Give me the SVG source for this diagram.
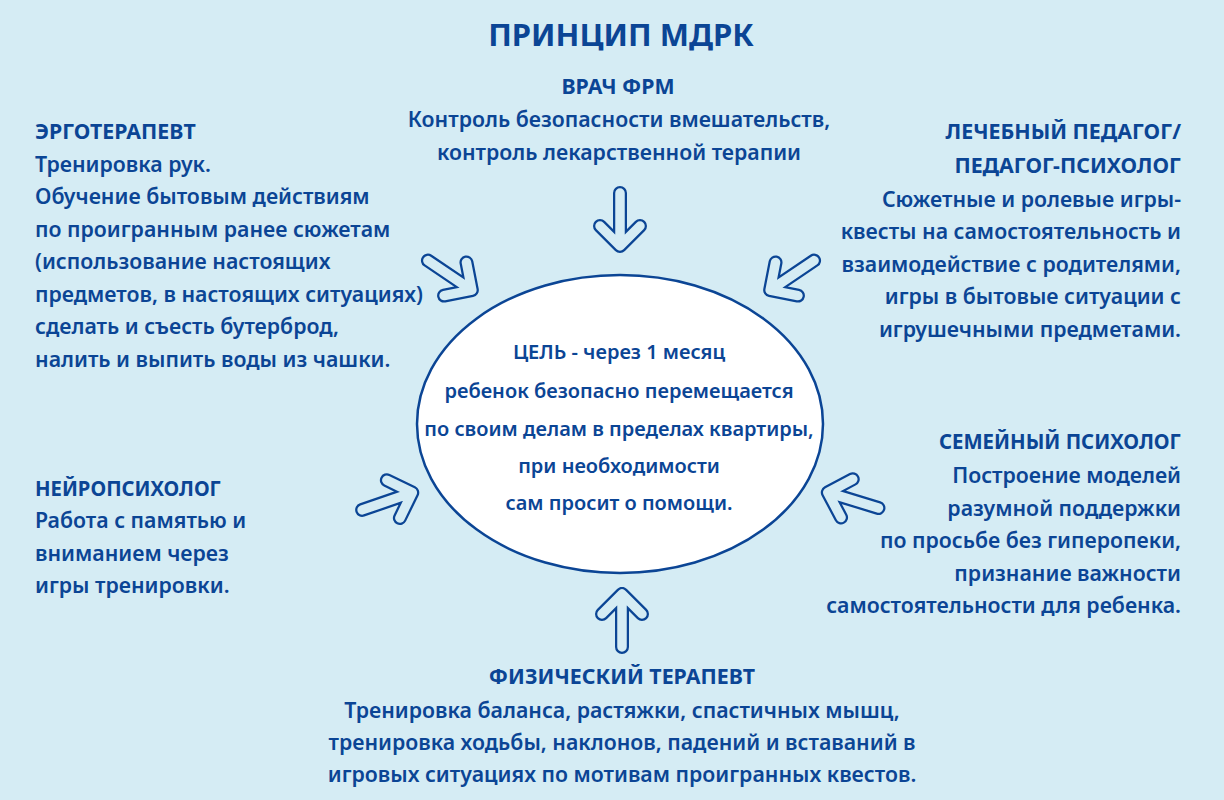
<svg xmlns="http://www.w3.org/2000/svg" xmlns:xlink="http://www.w3.org/1999/xlink" width="1224" height="800" viewBox="0 0 1224 800">
<style>
text{font-family:"Noto Sans","Open Sans","Liberation Sans",sans-serif;fill:#0b4595;font-weight:600;font-size:21.3px}
.title{font-size:31px;font-weight:700}
.g{font-size:20px}
.h{font-weight:700}
.l{text-anchor:start}
.r{text-anchor:end}
.c{text-anchor:middle}
.ao{fill:none;stroke:#0b4595;stroke-width:14;stroke-linecap:round;stroke-linejoin:round}
.ai{fill:none;stroke:#d5ecf4;stroke-width:9.5;stroke-linecap:round;stroke-linejoin:round}
</style>
<defs>
<g id="arr">
<path class="ao" d="M-58,0 H-5 M-25,-20 L-5,0 L-25,20"/>
<path class="ai" d="M-58,0 H-5 M-25,-20 L-5,0 L-25,20"/>
</g>
</defs>
<rect width="1224" height="800" fill="#d5ecf4"/>
<text class="title c" x="621" y="46">ПРИНЦИП МДРК</text>

<g id="connectors">
<use xlink:href="#arr" transform="translate(620,251) rotate(90)"/>
<use xlink:href="#arr" transform="translate(622,589) rotate(-90)"/>
<use xlink:href="#arr" transform="translate(476,293) rotate(34)"/>
<use xlink:href="#arr" transform="translate(766,293) rotate(146)"/>
<use xlink:href="#arr" transform="translate(417,491) rotate(-19)"/>
<use xlink:href="#arr" transform="translate(823,491) rotate(197)"/>
</g>

<g id="goal">
<ellipse cx="620" cy="424" rx="203" ry="149" fill="#ffffff" stroke="#0b4595" stroke-width="2.5"/>
<text class="c g" x="619" y="359">ЦЕЛЬ - через 1 месяц</text>
<text class="c g" x="619" y="398">ребенок безопасно перемещается</text>
<text class="c g" x="619" y="436">по своим делам в пределах квартиры,</text>
<text class="c g" x="619" y="473">при необходимости</text>
<text class="c g" x="619" y="510">сам просит о помощи.</text>
</g>

<g id="vrach">
<text class="c h" x="618" y="94">ВРАЧ ФРМ</text>
<text class="c" x="619" y="127">Контроль безопасности вмешательств,</text>
<text class="c" x="619" y="160">контроль лекарственной терапии</text>
</g>

<g id="ergo">
<text class="l h" x="35" y="139">ЭРГОТЕРАПЕВТ</text>
<text class="l" x="35" y="172">Тренировка рук.</text>
<text class="l" x="35" y="204">Обучение бытовым действиям</text>
<text class="l" x="35" y="237">по проигранным ранее сюжетам</text>
<text class="l" x="35" y="269">(использование настоящих</text>
<text class="l" x="35" y="302">предметов, в настоящих ситуациях)</text>
<text class="l" x="35" y="334">сделать и съесть бутерброд,</text>
<text class="l" x="35" y="367">налить и выпить воды из чашки.</text>
</g>

<g id="pedagog">
<text class="r h" x="1181" y="139">ЛЕЧЕБНЫЙ ПЕДАГОГ/</text>
<text class="r h" x="1181" y="173">ПЕДАГОГ-ПСИХОЛОГ</text>
<text class="r" x="1181" y="207">Сюжетные и ролевые игры-</text>
<text class="r" x="1181" y="239">квесты на самостоятельность и</text>
<text class="r" x="1181" y="272">взаимодействие с родителями,</text>
<text class="r" x="1181" y="304">игры в бытовые ситуации с</text>
<text class="r" x="1181" y="337">игрушечными предметами.</text>
</g>

<g id="neuro">
<text class="l h" x="35" y="496" textLength="186" lengthAdjust="spacingAndGlyphs">НЕЙРОПСИХОЛОГ</text>
<text class="l" x="35" y="528">Работа с памятью и</text>
<text class="l" x="35" y="561">вниманием через</text>
<text class="l" x="35" y="593">игры тренировки.</text>
</g>

<g id="family">
<text class="r h" x="1181" y="449" textLength="242" lengthAdjust="spacingAndGlyphs">СЕМЕЙНЫЙ ПСИХОЛОГ</text>
<text class="r" x="1181" y="483">Построение моделей</text>
<text class="r" x="1181" y="516">разумной поддержки</text>
<text class="r" x="1181" y="548">по просьбе без гиперопеки,</text>
<text class="r" x="1181" y="581">признание важности</text>
<text class="r" x="1181" y="613">самостоятельности для ребенка.</text>
</g>

<g id="physio">
<text class="c h" x="622" y="684">ФИЗИЧЕСКИЙ ТЕРАПЕВТ</text>
<text class="c" x="622" y="718">Тренировка баланса, растяжки, спастичных мышц,</text>
<text class="c" x="622" y="750">тренировка ходьбы, наклонов, падений и вставаний в</text>
<text class="c" x="622" y="782">игровых ситуациях по мотивам проигранных квестов.</text>
</g>
</svg>
